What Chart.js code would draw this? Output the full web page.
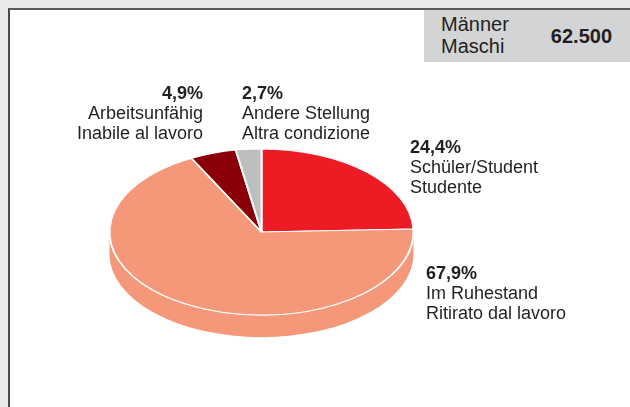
<!DOCTYPE html>
<html>
<head>
<meta charset="utf-8">
<script src="https://cdn.jsdelivr.net/npm/chart.js@4/dist/chart.umd.min.js"></script>
<style>
  html, body { margin: 0; padding: 0; }
  body { width: 630px; height: 407px; background: #e9ebea; position: relative; overflow: hidden;
         font-family: "Liberation Sans", Arial, sans-serif; color: #231f20; }
  #panel { position: absolute; left: 8px; top: 8px; right: 0; bottom: 0; background: #fff;
           border-left: 2px solid #4a4a4a; border-top: 2px solid #5c5c5c; }
  #total { position: absolute; left: 424px; top: 10px; right: 0; height: 52px; background: #d3d4d5; }
  #total .name { position: absolute; left: 17px; top: 3px; font-size: 20px; line-height: 22px; }
  #total .value { position: absolute; right: 18px; top: 15px; font-size: 20px; line-height: 22px; font-weight: bold; }
  canvas { position: absolute; left: 0; top: 0; }
</style>
</head>
<body>
<div id="panel"></div>
<div id="total"><div class="name" id="total-name"></div><div class="value" id="total-value"></div></div>
<canvas id="chart" width="630" height="407"></canvas>
<script>
  // ── Data ──
  const labelsDe = ['Schüler/Student', 'Im Ruhestand', 'Arbeitsunfähig', 'Andere Stellung'];
  const labelsIt = ['Studente', 'Ritirato dal lavoro', 'Inabile al lavoro', 'Altra condizione'];
  const shares = [24.4, 67.9, 4.9, 2.7];
  const colors = ['#ed1c24', '#f5987a', '#8b0008', '#bcbec0'];
  const totalName = ['Männer', 'Maschi'];
  const totalValue = '62.500';

  document.getElementById('total-name').innerHTML = totalName.join('<br>');
  document.getElementById('total-value').textContent = totalValue;

  const pct = v => v.toFixed(1).replace('.', ',') + '%';

  // ── fake 3D: squash the pie vertically and extrude the front rim ──
  const pie3d = {
    id: 'pie3d',
    beforeDatasetsDraw(chart, args, opts) {
      const arcs = chart.getDatasetMeta(0).data;
      const { x: cx, y: cy, outerRadius: r } = arcs[0];
      const ctx = chart.ctx;
      ctx.save();
      ctx.translate(cx, cy);
      ctx.scale(1, opts.tilt);
      ctx.translate(-cx, -cy);
      const d = opts.depth / opts.tilt;
      arcs.forEach(arc => {
        const s = Math.max(arc.startAngle, 0);
        const e = Math.min(arc.endAngle, Math.PI);
        if (s >= e) return;
        ctx.beginPath();
        ctx.arc(cx, cy, r, s, e);
        ctx.arc(cx, cy + d, r, e, s, true);
        ctx.closePath();
        ctx.fillStyle = arc.options.backgroundColor;
        ctx.fill();
      });
    },
    afterDatasetsDraw(chart) {
      chart.ctx.restore();
    },
  };

  // ── labels beside the slices ──
  const sliceLabels = {
    id: 'sliceLabels',
    afterDraw(chart, args, opts) {
      const ctx = chart.ctx;
      ctx.save();
      ctx.fillStyle = '#231f20';
      ctx.textBaseline = 'alphabetic';
      opts.anchors.forEach((a, i) => {
        ctx.textAlign = a.align;
        ctx.font = 'bold 18px "Liberation Sans", Arial, sans-serif';
        ctx.fillText(pct(shares[i]), a.x, a.y);
        ctx.font = '18px "Liberation Sans", Arial, sans-serif';
        ctx.fillText(labelsDe[i], a.x, a.y + opts.lineHeight);
        ctx.fillText(labelsIt[i], a.x, a.y + opts.lineHeight * 2);
      });
      ctx.restore();
    },
  };

  new Chart(document.getElementById('chart'), {
    type: 'pie',
    data: {
      labels: labelsDe,
      datasets: [{
        data: shares,
        backgroundColor: colors,
        borderColor: '#ffffff',
        borderWidth: 2,
        clip: false,
      }],
    },
    options: {
      responsive: false,
      animation: false,
      devicePixelRatio: 1,
      layout: { padding: { left: 108, right: 215, top: 79, bottom: 22 } },
      plugins: {
        legend: { display: false },
        tooltip: { enabled: false },
        pie3d: { tilt: 0.547, depth: 22 },
        sliceLabels: {
          lineHeight: 20,
          anchors: [
            { x: 410, y: 153, align: 'left' },
            { x: 426, y: 279, align: 'left' },
            { x: 203, y: 99, align: 'right' },
            { x: 242, y: 99, align: 'left' },
          ],
        },
      },
    },
    plugins: [pie3d, sliceLabels],
  });
</script>
</body>
</html>
